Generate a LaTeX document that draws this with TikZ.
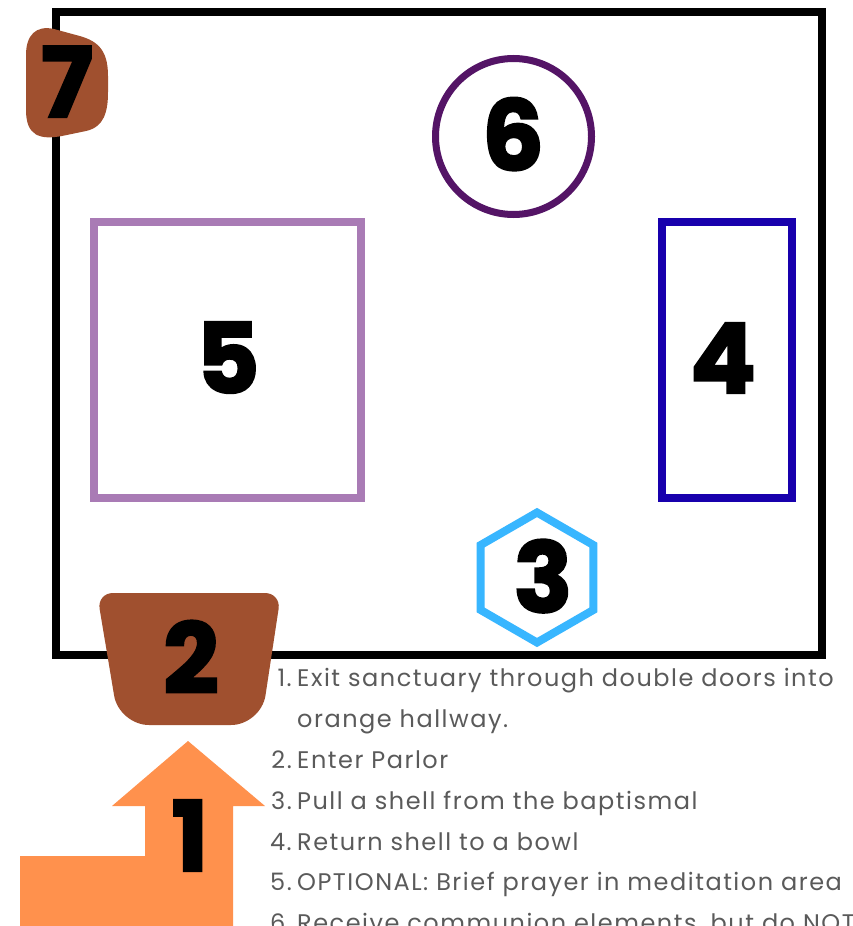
\documentclass[tikz,border=0pt]{standalone}
\usepackage{fontspec}
\setmainfont{Poppins}[LetterSpace=6.3]
\newfontfamily\numfont[BoldFeatures={FakeBold=2.5}]{Poppins}
\usetikzlibrary{positioning}
\definecolor{rust}{HTML}{A0502F}
\definecolor{peach}{HTML}{FF914D}
\definecolor{sky}{HTML}{38B6FF}
\definecolor{deepblue}{HTML}{1800AD}
\definecolor{lilac}{HTML}{A97BB5}
\definecolor{plum}{HTML}{541466}
\definecolor{inkgray}{HTML}{5A5A5A}

\begin{document}
\begin{tikzpicture}[x=1pt,y=-1pt,
 num/.style={font=\numfont\bfseries\fontsize{97}{97}\selectfont,anchor=base,inner sep=0pt},
 item/.style={font=\fontsize{24}{24}\selectfont,text=inkgray,anchor=base west,inner sep=0pt},
 itemno/.style={item,anchor=base east},
 wall/.style={draw,line width=8pt}]
\clip (0,0) rectangle (852,926);
\fill[white] (0,0) rectangle (852,926);
% room and stations
\draw[wall] (56,12) rectangle (822,655);
\draw[plum,line width=7pt] (513.5,136.5) circle (78);
\draw[lilac,line width=8pt] (94,222) rectangle (361,498);
\draw[deepblue,line width=8pt] (662,222) rectangle (792,498);
\draw[sky,line width=8pt] (537,512.5) -- (593.3,545) -- (593.3,610) -- (537,642.5) -- (480.7,610) -- (480.7,545) -- cycle;
\fill[rust] (26,55) -- (26,110) .. controls (26,136) and (40,140) .. (62,136) -- (86,131) .. controls (104,127) and (108,112) .. (108,92) -- (108,76) .. controls (108,48) and (96,40) .. (76,35) -- (54,29) .. controls (36,25) and (26,35) .. (26,55) -- cycle;
\fill[rust,rounded corners=16pt] (97,593) -- (281,593) [rounded corners=30pt] -- (261,725) -- (119,725) [rounded corners=16pt] -- cycle;
\fill[peach] (20,926) -- (20,856) -- (145,856) -- (145,806) -- (112,806) -- (188,741) -- (265,806) -- (233,806) -- (233,926) -- cycle;
\node[num] (s7) at (67,117) {7};
\node[num] (s6) at (513,170) {6};
\node[num] (s5) at (228,393) {5};
\node[num] (s4) at (723,393) {4};
\node[num] (s3) at (543,612) {3};
\node[num] (s2) at (191,693) {2};
\node[num] (s1) at (190,871) {1};
% steps
\node[itemno] (n1) at (292,686) {1.};
\node[item] (t1) at (297,686) {Exit sanctuary through double doors into};
\node[item] (t1b) at (297,727) {orange hallway.};
\node[itemno] (n2) at (292,768) {2.};
\node[item] (t2) at (297,768) {Enter Parlor};
\node[itemno] (n3) at (292,809) {3.};
\node[item] (t3) at (297,809) {Pull a shell from the baptismal};
\node[itemno] (n4) at (292,850) {4.};
\node[item] (t4) at (297,850) {Return shell to a bowl};
\node[itemno] (n5) at (292,890) {5.};
\node[item] (t5) at (297,890) {OPTIONAL: Brief prayer in meditation area};
\node[itemno] (n6) at (292,931) {6.};
\node[item] (t6) at (297,931) {Receive communion elements, but do NOT};
\end{tikzpicture}
\end{document}
